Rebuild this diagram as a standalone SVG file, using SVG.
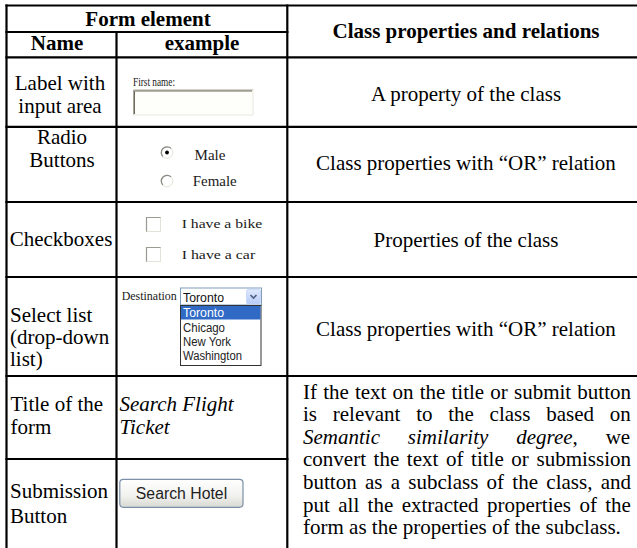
<svg xmlns="http://www.w3.org/2000/svg" width="637" height="548" viewBox="0 0 637 548">
  <style>
    .t{font-family:"Liberation Serif","Times New Roman",serif;font-size:21px;fill:#000}
    .b{font-weight:bold}
    .c{text-anchor:middle}
    .i{font-style:italic}
    .grid line{stroke:#000;stroke-width:2.2}
    .ui{font-family:"Liberation Serif","Times New Roman",serif;fill:#1a1a1a}
    .ss{font-family:"Liberation Sans",Arial,sans-serif}
  </style>
  <defs>
    <linearGradient id="btnFill" x1="0" y1="0" x2="0" y2="1">
      <stop offset="0" stop-color="#ffffff"/>
      <stop offset="0.6" stop-color="#f1f1ee"/>
      <stop offset="1" stop-color="#d8d8d2"/>
    </linearGradient>
    <linearGradient id="dropBtn" x1="0" y1="0" x2="0" y2="1">
      <stop offset="0" stop-color="#dfe9fd"/>
      <stop offset="1" stop-color="#b6cbf6"/>
    </linearGradient>
  </defs>

  <rect width="637" height="548" fill="#fff"/>

  <!-- table rules -->
  <g id="grid" class="grid">
    <line x1="6.5" y1="4.4" x2="6.5" y2="548"/>
    <line x1="116.5" y1="32" x2="116.5" y2="548"/>
    <line x1="287.3" y1="4.4" x2="287.3" y2="548"/>
    <line x1="5.4" y1="5.5" x2="637" y2="5.5"/>
    <line x1="5.4" y1="32" x2="288.4" y2="32"/>
    <line x1="5.4" y1="57.3" x2="637" y2="57.3"/>
    <line x1="5.4" y1="126.8" x2="637" y2="126.8"/>
    <line x1="5.4" y1="202" x2="637" y2="202"/>
    <line x1="5.4" y1="277" x2="637" y2="277"/>
    <line x1="5.4" y1="376" x2="637" y2="376"/>
    <line x1="5.4" y1="459" x2="288.4" y2="459"/>
  </g>

  <!-- header -->
  <g id="header">
    <text class="t b c" x="148" y="26">Form element</text>
    <text class="t b c" x="57" y="50">Name</text>
    <text class="t b c" x="202" y="50">example</text>
    <text class="t b c" x="466" y="38">Class properties and relations</text>
  </g>

  <!-- row: label with input area -->
  <g id="row-input">
    <text class="t c" x="60" y="90">Label with</text>
    <text class="t c" x="60" y="113">input area</text>
    <text class="ui" x="133" y="86" font-size="11.5" textLength="42" lengthAdjust="spacingAndGlyphs">First name:</text>
    <rect x="133" y="89.5" width="120" height="25.5" fill="#fefefb"/>
    <path d="M133.5 115 V90 H253" fill="none" stroke="#a7a597" stroke-width="1"/>
    <path d="M134.5 114 V91 H252" fill="none" stroke="#6f6c5e" stroke-width="1"/>
    <path d="M253 90 V115 H133" fill="none" stroke="#e9e7dc" stroke-width="1"/>
    <text class="t c" x="466" y="101">A property of the class</text>
  </g>

  <!-- row: radio buttons -->
  <g id="row-radio">
    <text class="t c" x="62" y="144">Radio</text>
    <text class="t c" x="62" y="167">Buttons</text>
    <circle cx="167" cy="152.5" r="5.8" fill="#fff" stroke="#e6e3d8" stroke-width="1"/>
    <path d="M171.1 148.4 A5.8 5.8 0 0 0 162.9 156.6" fill="none" stroke="#8a8a84" stroke-width="1.3"/>
    <circle cx="167" cy="152.5" r="1.9" fill="#000"/>
    <text class="ui" x="194.5" y="160" font-size="14" textLength="31" lengthAdjust="spacingAndGlyphs">Male</text>
    <circle cx="167" cy="181" r="5.8" fill="#fff" stroke="#e6e3d8" stroke-width="1"/>
    <path d="M171.1 176.9 A5.8 5.8 0 0 0 162.9 185.1" fill="none" stroke="#8a8a84" stroke-width="1.3"/>
    <text class="ui" x="192.7" y="186" font-size="14" textLength="44" lengthAdjust="spacingAndGlyphs">Female</text>
    <text class="t c" x="466" y="170">Class properties with “OR” relation</text>
  </g>

  <!-- row: checkboxes -->
  <g id="row-checkbox">
    <text class="t c" x="61" y="246">Checkboxes</text>
    <rect x="146.5" y="217.5" width="14" height="14" fill="#fff" stroke="#e4e2d8" stroke-width="1"/>
    <path d="M146.5 231.5 V217.5 H160.5" fill="none" stroke="#9a9a92" stroke-width="1.2"/>
    <text class="ui" x="181.7" y="228" font-size="13.5" textLength="80.5" lengthAdjust="spacingAndGlyphs">I have a bike</text>
    <rect x="146.5" y="247.5" width="14" height="14" fill="#fff" stroke="#e4e2d8" stroke-width="1"/>
    <path d="M146.5 261.5 V247.5 H160.5" fill="none" stroke="#9a9a92" stroke-width="1.2"/>
    <text class="ui" x="181.7" y="259" font-size="13.5" textLength="73.5" lengthAdjust="spacingAndGlyphs">I have a car</text>
    <text class="t c" x="466" y="247">Properties of the class</text>
  </g>

  <!-- row: select list -->
  <g id="row-select">
    <text class="t" x="10" y="322">Select list</text>
    <text class="t" x="10" y="344">(drop-down</text>
    <text class="t" x="10" y="366">list)</text>
    <text class="ui" x="121.7" y="300" font-size="12" textLength="55" lengthAdjust="spacingAndGlyphs">Destination</text>
    <rect x="180.5" y="288" width="81" height="17" fill="#fff" stroke="#7f9db9" stroke-width="1"/>
    <text class="ss" x="183" y="301.5" font-size="12.5" fill="#111" textLength="41" lengthAdjust="spacingAndGlyphs">Toronto</text>
    <rect x="246.5" y="289.5" width="14" height="14.5" rx="1.5" fill="url(#dropBtn)" stroke="#c3d3fd" stroke-width="0.8"/>
    <path d="M250.5 295 L253.5 298 L256.5 295" fill="none" stroke="#4d6185" stroke-width="1.6"/>
    <rect x="180.5" y="305.5" width="80.5" height="60" fill="#fff" stroke="#333" stroke-width="1"/>
    <rect x="181" y="306" width="79.5" height="13.5" fill="#316ac5"/>
    <text class="ss" x="183" y="317" font-size="12.5" fill="#fff" textLength="41" lengthAdjust="spacingAndGlyphs">Toronto</text>
    <text class="ss" x="183" y="331.5" font-size="12.5" fill="#222" textLength="42" lengthAdjust="spacingAndGlyphs">Chicago</text>
    <text class="ss" x="183" y="346" font-size="12.5" fill="#222" textLength="48" lengthAdjust="spacingAndGlyphs">New York</text>
    <text class="ss" x="183" y="360" font-size="12.5" fill="#222" textLength="59" lengthAdjust="spacingAndGlyphs">Washington</text>
    <text class="t c" x="466" y="336">Class properties with “OR” relation</text>
  </g>

  <!-- row: title of the form -->
  <g id="row-title">
    <text class="t" x="10.5" y="411">Title of the</text>
    <text class="t" x="10.5" y="434">form</text>
    <text class="t i" x="119.5" y="411">Search Flight</text>
    <text class="t i" x="119.5" y="434">Ticket</text>
  </g>

  <!-- row: submission button -->
  <g id="row-submit">
    <text class="t" x="10" y="498">Submission</text>
    <text class="t" x="10" y="523">Button</text>
    <rect x="119.8" y="479.3" width="123.2" height="28" rx="3.5" fill="url(#btnFill)" stroke="#7b8fa9" stroke-width="1.2"/>
    <text class="ss c" x="181.5" y="499.3" font-size="15.8" fill="#1e1e1e">Search Hotel</text>
  </g>

  <!-- shared rule for title and submit rows -->
  <g id="rule-title-submit" class="t">
    <text x="303" y="398.5" word-spacing="0.9">If the text on the title or submit button</text>
    <text x="303" y="421.1" word-spacing="10.5">is relevant to the class based on</text>
    <text x="303" y="443.7" word-spacing="22.6"><tspan class="i">Semantic similarity degree</tspan>, we</text>
    <text x="303" y="466.3" word-spacing="2.37">convert the text of title or submission</text>
    <text x="303" y="488.9" word-spacing="3.03">button as a subclass of the class, and</text>
    <text x="303" y="511.5" word-spacing="3.15">put all the extracted properties of the</text>
    <text x="303" y="534.1">form as the properties of the subclass.</text>
  </g>
</svg>
